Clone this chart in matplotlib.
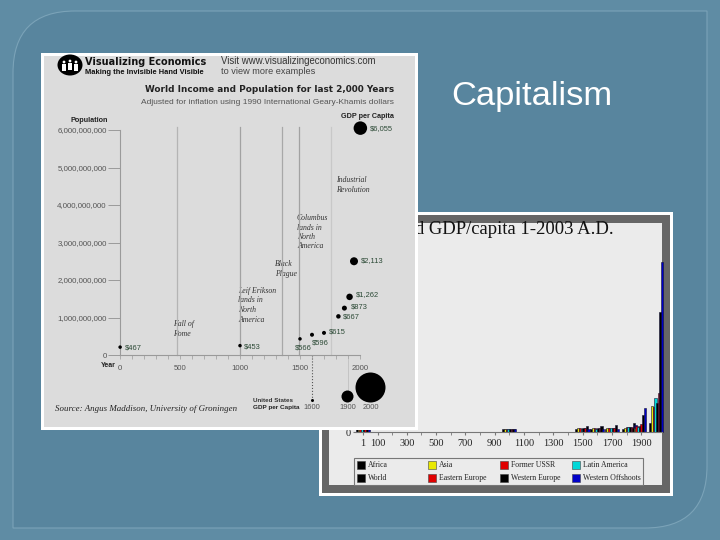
import matplotlib

matplotlib.use("Agg")
import matplotlib.pyplot as plt  # noqa: E402
from matplotlib.patches import Circle, Ellipse, PathPatch, Rectangle  # noqa: E402
from matplotlib.path import Path  # noqa: E402

BLUE, BLUE_IN, BLUE_LINE, PANEL, LIGHT, FRAME = "#5f8ca4", "#58859e", "#7ba3b8", "#dcdcdc", "#ebebeb", "#666666"
AXIS, INK, GREEN = "#9a9a9a", "#222222", "#2c4a36"
SANS, SERIF = "Liberation Sans", "Liberation Serif"

# world income and population
EVENT_YEARS = [476, 1000, 1347, 1492, 1760]
EVENT_SHADES = ["#b4b4b4", "#a2a2a2", "#a8a8a8", "#a2a2a2", "#c8c8c8"]
WORLD_YEARS = [1, 1000, 1500, 1600, 1700, 1820, 1870, 1913, 1950, 2003]
WORLD_POP = [0.21e9, 0.25e9, 0.43e9, 0.54e9, 0.59e9, 1.03e9, 1.25e9, 1.55e9, 2.5e9, 6.05e9]
WORLD_LABELS = ["$467", "$453", "$566", "$596", "$615", "$667", "$873", "$1,262", "$2,113", "$6,055"]
WORLD_DIAM = [3.5, 3.5, 3.5, 4, 4, 4.5, 5, 6.5, 8, 13.5]
LABEL_OFF = [(5, -1), (4, -1), (-5, -9), (0, -8), (5, 1), (4, -1), (6, 1), (6, 2), (7, 1), (9, 0)]
POP_TICKS = [0, 1e9, 2e9, 3e9, 4e9, 5e9, 6e9]
US_YEARS = [1600, 1900, 2000]
US_DIAM = [3, 12, 30]
US_Y = [-1.2e9, -1.09e9, -0.85e9]

# GDP per capita bars
GROUP_YEARS = [1, 1000, 1500, 1600, 1700, 1820, 1885, 2003]
SERIES = ["Africa", "Asia", "Former USSR", "Latin America", "World", "Eastern Europe", "Western Europe", "Western Offshoots"]
AFRICA = [430, 420, 410, 420, 420, 420, 500, 1250]
ASIA = [450, 450, 570, 570, 570, 580, 550, 3600]
USSR = [400, 400, 500, 550, 610, 690, 900, 3500]
LATIN = [400, 400, 410, 440, 530, 690, 700, 4700]
WORLD = [460, 430, 560, 590, 610, 670, 880, 4000]
E_EUROPE = [410, 400, 500, 550, 610, 680, 1100, 5400]
W_EUROPE = [570, 420, 770, 890, 980, 1200, 2400, 16700]
OFFSHOOTS = [400, 400, 400, 400, 470, 1000, 3300, 23700]
BAR_COLORS = ["#000000", "#e8e800", "#e00000", "#00d8d8", "#000000", "#e00000", "#000000", "#0000c8"]
XTICKS = [1, 100, 300, 500, 700, 900, 1100, 1300, 1500, 1700, 1900]


def pixel_axes(fig, left, top, right, bottom, z):
    ax = fig.add_axes([left / 720, 1 - bottom / 540, (right - left) / 720, (bottom - top) / 540], zorder=z)
    ax.patch.set_alpha(0)
    return ax


def canvas_axes(fig, z):
    ax = pixel_axes(fig, 0, 0, 720, 540, z)
    ax.set_xlim(0, 720)
    ax.set_ylim(540, 0)
    ax.axis("off")
    return ax


def slide_frame(x0, y0, x1, y1, r):
    # only the top-left and bottom-right corners are rounded
    verts = [
        (x0, y0 + r), (x0, y0), (x0 + r, y0), (x1, y0), (x1, y1 - r), (x1, y1), (x1 - r, y1), (x0, y1), (x0, y0 + r),
    ]
    codes = [
        Path.MOVETO, Path.CURVE3, Path.CURVE3, Path.LINETO, Path.LINETO, Path.CURVE3, Path.CURVE3, Path.LINETO, Path.CLOSEPOLY,
    ]
    return Path(verts, codes)


fig = plt.figure(figsize=(7.2, 5.4), dpi=100, facecolor=BLUE)

bg = canvas_axes(fig, 0)
bg.add_patch(PathPatch(slide_frame(13, 11, 707, 528, 62), fc=BLUE_IN, ec=BLUE_LINE, lw=0.8))
bg.text(532, 96, "Capitalism", color="white", fontsize=24.8, family=SANS, ha="center", va="center")

# second chart sits under the first one
bg.add_patch(Rectangle((319, 212), 354, 284, fc="white", ec="none"))
bg.add_patch(Rectangle((322, 215), 348, 277.5, fc=FRAME, ec="none"))
bg.add_patch(Rectangle((329, 223), 333, 262, fc=LIGHT, ec="none"))
bg.text(614, 229, "World GDP/capita 1-2003 A.D.", family=SERIF, fontsize=13.4, color="#111111", ha="right", va="center")

PX_YEAR = 0.1465
PX_GDP = 0.00717
bars = pixel_axes(fig, 356, 223, 662, 432, 1)
bars.set_xlim(1 + (356 - 363) / PX_YEAR, 1 + (662 - 363) / PX_YEAR)
bars.set_ylim(0, 209 / PX_GDP)
step = 1.71 / PX_YEAR
values = [AFRICA, ASIA, USSR, LATIN, WORLD, E_EUROPE, W_EUROPE, OFFSHOOTS]
for g, year in enumerate(GROUP_YEARS):
    for s, vals in enumerate(values):
        bars.bar(
            year + (s - 3.5) * step, vals[g], width=2.3 / PX_YEAR, color=BAR_COLORS[s],
            ec="#111133", lw=0.4, clip_on=False,
        )
for side in ["top", "right", "left"]:
    bars.spines[side].set_visible(False)
bars.spines["bottom"].set_color("#777777")
bars.set_xticks(XTICKS)
bars.set_xticklabels([str(x) for x in XTICKS], family=SERIF, fontsize=7.5, color=INK)
bars.set_xticks(range(200, 2000, 200), minor=True)
bars.tick_params(axis="x", which="both", length=2, color="#777777", pad=3)
bars.set_yticks([0])
bars.set_yticklabels(["0"], family=SERIF, fontsize=7.5, color=INK)
bars.tick_params(axis="y", length=2, color="#777777", pad=2)

legend = canvas_axes(fig, 2)
legend.add_patch(Rectangle((354, 458), 289, 27, fc="none", ec="#777777", lw=0.8))
for i, (name, color) in enumerate(
    zip(
        ["Africa", "World", "Asia", "Eastern Europe", "Former USSR", "Western Europe", "Latin America", "Western Offshoots"],
        ["#000000", "#000000", "#e8e800", "#e00000", "#e00000", "#000000", "#00d8d8", "#0000c8"],
    )
):
    cx = [357, 428, 500, 572][i // 2]
    cy = [465, 477.5][i % 2]
    legend.add_patch(Rectangle((cx, cy - 4), 8, 8, fc=color, ec="#444444", lw=0.4))
    legend.text(cx + 11, cy, name, family=SERIF, fontsize=5.6, color=INK, va="center")

# first chart panel
top = canvas_axes(fig, 3)
top.add_patch(Rectangle((41, 53), 377, 377, fc="white", ec="none"))
top.add_patch(Rectangle((44, 56), 371, 371, fc=PANEL, ec="none"))

# logo
top.add_patch(Ellipse((70, 65), 25, 21, fc="black", ec="none"))
for fx, fy in [(64, 66), (70, 65), (76, 66)]:
    top.add_patch(Circle((fx, fy - 4), 1.4, fc="white", ec="none"))
    top.add_patch(Rectangle((fx - 1.6, fy - 2.2), 3.2, 7.5, fc="white", ec="none"))

top.text(85, 62, "Visualizing Economics", family="DejaVu Sans", weight="bold", fontsize=7.0, color="#111111", va="center")
top.text(85, 72, "Making the Invisible Hand Visible", family=SANS, weight="bold", fontsize=5.4, color="#111111", va="center")
top.text(221, 61, "Visit www.visualizingeconomics.com", family=SANS, fontsize=6.9, color="#333333", va="center")
top.text(221, 72, "to view more examples", family=SANS, fontsize=6.6, color="#444444", va="center")
top.text(394, 90, "World Income and Population for last 2,000 Years", family="DejaVu Sans", weight="bold",
         fontsize=6.4, color="#222222", ha="right", va="center")
top.text(394, 102, "Adjusted for inflation using 1990 International Geary-Khamis dollars", family=SANS,
         fontsize=6.0, color="#555555", ha="right", va="center")
top.text(89, 120, "Population", family=SANS, weight="bold", fontsize=5.2, color="#222222", ha="center", va="center")
top.text(394, 117, "GDP per Capita", family=SANS, weight="bold", fontsize=5.2, color="#222222", ha="right", va="center")

notes = [
    (173, 320, "Fall of\nRome"),
    (238, 287, "Leif Erikson\nlands in\nNorth\nAmerica"),
    (275, 260, "Black\nPlague"),
    (297, 214, "Columbus\nlands in\nNorth\nAmerica"),
    (336, 176, "Industrial\nRevolution"),
]
for nx, ny, note in notes:
    top.text(nx, ny, note, family=SERIF, style="italic", fontsize=5.6, color="#333333", va="top", linespacing=1.25)
top.text(55, 409, "Source: Angus Maddison, University of Groningen", family=SERIF, style="italic",
         fontsize=6.4, color="#222222", va="center")
top.text(253, 401, "United States", family=SANS, weight="bold", fontsize=4.5, color="#333333", va="center")
top.text(253, 408, "GDP per Capita", family=SANS, weight="bold", fontsize=4.6, color="#222222", va="center")
top.text(116, 365.5, "Year", family=SANS, weight="bold", fontsize=5, color="#222222", ha="right", va="center")

PX_Y = 37.5e-9
PX_X = 0.12
ax = pixel_axes(fig, 44, 56, 415, 427, 4)
ax.set_xlim((44 - 120) / PX_X, (415 - 120) / PX_X)
ax.set_ylim((355 - 427) / PX_Y, (355 - 56) / PX_Y)
for side in ["top", "right"]:
    ax.spines[side].set_visible(False)
for side in ["left", "bottom"]:
    ax.spines[side].set_position(("data", 0))
    ax.spines[side].set_color(AXIS)
    ax.spines[side].set_linewidth(0.8)
ax.spines["left"].set_bounds(0, 6e9)
ax.spines["bottom"].set_bounds(0, 2000)
ax.set_yticks(POP_TICKS)
ax.set_yticklabels(["0"] + [f"{int(v):,}" for v in POP_TICKS[1:]], family=SANS, fontsize=5.7, color="#555555")
ax.tick_params(axis="y", length=8.5, width=0.7, color=AXIS, pad=1)
ax.set_xticks(range(0, 2001, 100))
ax.set_xticklabels([str(y) if y % 500 == 0 else "" for y in range(0, 2001, 100)], family=SANS, fontsize=5.6, color="#555555")
ax.tick_params(axis="x", length=3, width=0.5, color=AXIS, pad=4)

for year, shade in zip(EVENT_YEARS, EVENT_SHADES):
    ax.plot([year, year], [0, 6.08e9], color=shade, lw=0.9, zorder=1)
ax.plot([1600, 1600], [0, US_Y[0]], color="#555555", lw=0.8, ls=":", zorder=1)
ax.plot([1900, 1900], [-0.13e9, US_Y[1]], color="#c4c4c4", lw=0.7, zorder=1)

ax.scatter(WORLD_YEARS, WORLD_POP, s=[(d * 0.72) ** 2 for d in WORLD_DIAM], color="black", lw=0, zorder=3, clip_on=False)
for year, pop, label, off in zip(WORLD_YEARS, WORLD_POP, WORLD_LABELS, LABEL_OFF):
    ax.annotate(label, (year, pop), xytext=off, textcoords="offset pixels", family=SANS, fontsize=5.4,
                color=GREEN, va="center")

ax.scatter([1600], US_Y[:1], s=(US_DIAM[0] * 0.72) ** 2, color="black", lw=0, zorder=3)
ax.scatter([1895], US_Y[1:2], s=(US_DIAM[1] * 0.72) ** 2, color="black", lw=0, zorder=3)
ax.scatter([2083], US_Y[2:], s=(US_DIAM[2] * 0.72) ** 2, color="black", lw=0, zorder=3, clip_on=False)
for year, label in zip([1600, 1900, 2090], ["1600", "1900", "2000"]):
    ax.text(year, -1.4e9, label, family=SANS, fontsize=5.4, color="#555555", ha="center", va="center")

fig.savefig("out.png", dpi=100, facecolor=BLUE)
